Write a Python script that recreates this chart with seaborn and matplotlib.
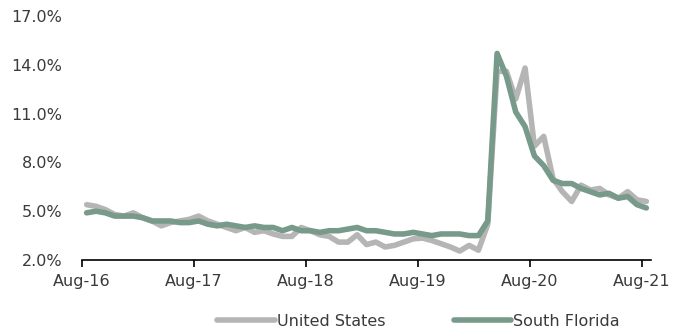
import pandas as pd
import matplotlib.pyplot as plt
import numpy as np
import seaborn as sns

# monthly unemployment rate, Aug-16 .. Aug-21
months = pd.date_range('2016-08-01', '2021-08-01', freq='MS')
united_states = [5.4, 5.3, 5.1, 4.8, 4.7, 4.9, 4.6, 4.4, 4.1, 4.3, 4.4, 4.5,
                 4.7, 4.4, 4.2, 4.0, 3.8, 4.0, 3.7, 3.8, 3.6, 3.45, 3.45, 4.0,
                 3.8, 3.55, 3.45, 3.1, 3.1, 3.55, 2.95, 3.1, 2.8, 2.9, 3.1, 3.3,
                 3.35, 3.2, 3.0, 2.8, 2.55, 2.9, 2.6, 4.2, 13.6, 13.6, 11.9, 13.8,
                 9.0, 9.6, 7.0, 6.2, 5.6, 6.6, 6.3, 6.4, 6.0, 5.8, 6.2, 5.7, 5.6]
south_florida = [4.9, 5.0, 4.9, 4.7, 4.7, 4.7, 4.6, 4.4, 4.4, 4.4, 4.3, 4.3,
                 4.4, 4.2, 4.1, 4.2, 4.1, 4.0, 4.1, 4.0, 4.0, 3.8, 4.0, 3.8,
                 3.8, 3.7, 3.8, 3.8, 3.9, 4.0, 3.8, 3.8, 3.7, 3.6, 3.6, 3.7,
                 3.6, 3.5, 3.6, 3.6, 3.6, 3.5, 3.5, 4.4, 14.7, 13.3, 11.1, 10.2,
                 8.4, 7.8, 6.9, 6.7, 6.7, 6.4, 6.2, 6.0, 6.1, 5.8, 5.9, 5.4, 5.2]
series_names = ['United States', 'South Florida']
colors = ['#b5b5b5', '#789a8a']

# category positions (points sit in the middle of each month slot)
pos = np.arange(len(months)) + 0.5
df = pd.DataFrame({
    'pos': np.concatenate([pos, pos]),
    'rate': united_states + south_florida,
    'series': [series_names[0]] * len(months) + [series_names[1]] * len(months),
})

sns.set_style('white')
plt.rcParams['font.family'] = ['DejaVu Sans']
fs = 11.5
txt = '#3a3a3a'

fig = plt.figure(figsize=(6.75, 3.3), dpi=100)
ax = fig.add_axes([82 / 675, 1 - 260 / 330, (651 - 82) / 675, (260 - 16) / 330])

sns.lineplot(data=df, x='pos', y='rate', hue='series', palette=colors,
             linewidth=4.0, ax=ax, legend=False)

ax.set_xlim(0, len(months))
ax.set_ylim(2, 17)
ax.set_yticks(np.arange(2, 17.1, 3))
ax.set_yticklabels([f'{v:.1f}%' for v in np.arange(2, 17.1, 3)])
tick_idx = np.arange(0, len(months), 12)
ax.set_xticks(tick_idx)
ax.set_xticklabels([months[i].strftime('%b-%y') for i in tick_idx])
ax.set_xlabel('')
ax.set_ylabel('')

for s in ['top', 'right', 'left']:
    ax.spines[s].set_visible(False)
ax.spines['bottom'].set_color('black')
ax.spines['bottom'].set_linewidth(1.2)
ax.tick_params(axis='x', direction='out', length=5, width=1.2, color='black',
               bottom=True, labelsize=fs, labelcolor=txt, pad=5)
ax.tick_params(axis='y', length=0, labelsize=fs, labelcolor=txt, pad=14)

handles = [plt.Line2D([], [], color=c, lw=4.0) for c in colors]
fig.legend(handles, series_names, loc='lower center', ncol=2, frameon=False,
           bbox_to_anchor=(0.62, -0.04), handlelength=3.6, handletextpad=0.1,
           columnspacing=4.3, fontsize=fs, labelcolor=txt)

plt.savefig('out.png', dpi=100)
